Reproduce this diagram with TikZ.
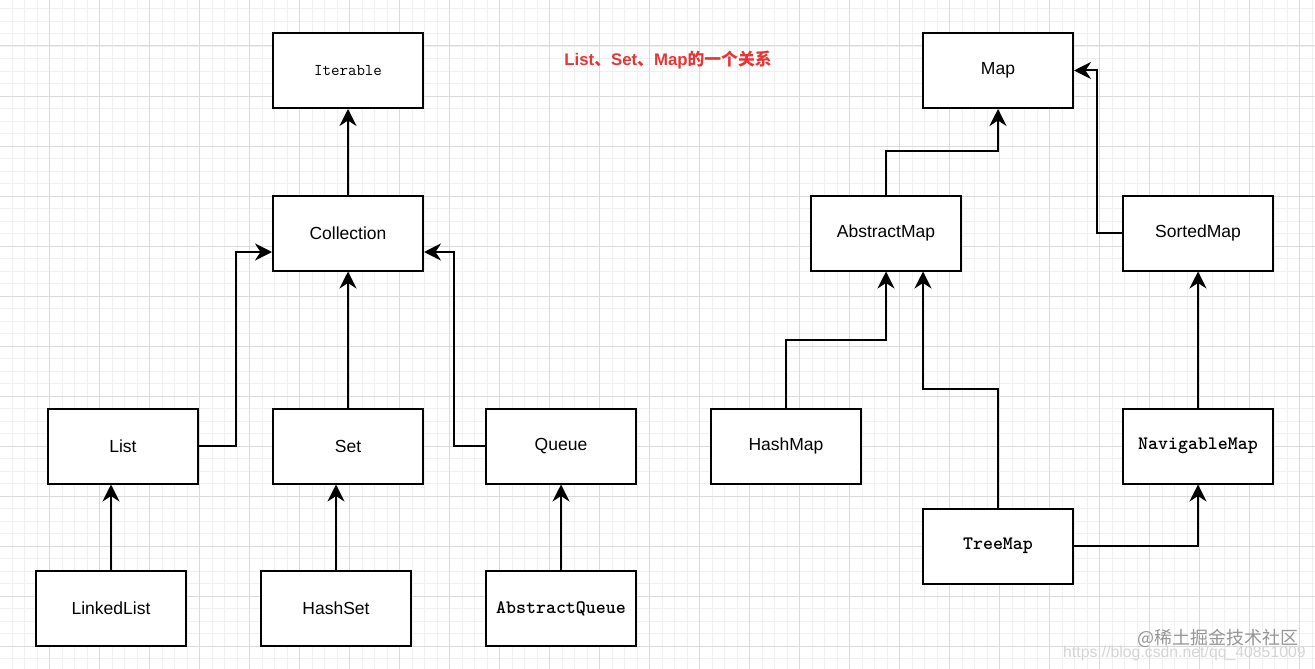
\documentclass[tikz,border=0pt]{standalone}
\usepackage{fontspec}
\setmainfont{Liberation Sans}
\newfontfamily\cjk{Noto Sans CJK SC}
\usetikzlibrary{arrows.meta}
\definecolor{titlered}{RGB}{232,52,52}
\definecolor{gridmajor}{RGB}{218,218,218}
\definecolor{gridminor}{RGB}{240,240,240}
\definecolor{wmgray}{RGB}{150,150,150}
\begin{document}
\begin{tikzpicture}[x=1pt,y=-1pt,
  box/.style={draw=black,line width=2pt,fill=white,minimum width=150pt,minimum height=75pt,inner sep=0pt,font=\fontsize{17.5}{20}\selectfont},
  monob/.style={box,font=\ttfamily\bfseries\fontsize{19}{22}\selectfont},
  monon/.style={box,font=\ttfamily\fontsize{16.5}{19}\selectfont},
  conn/.style={draw=black,line width=2pt,-{Stealth[length=17pt,width=17pt,inset=5.5pt]}}]
\useasboundingbox (0,0) rectangle (1315,669);
\fill[white] (0,0) rectangle (1315,669);
% minor grid
\foreach \i in {0,...,106} {
  \draw[gridminor,line width=0.8pt] ({-0.5+12.5*\i},0) -- ({-0.5+12.5*\i},669);
}
\foreach \j in {0,...,54} {
  \draw[gridminor,line width=0.8pt] (0,{-4+12.5*\j}) -- (1315,{-4+12.5*\j});
}
% major grid
\foreach \i in {0,...,27} {
  \draw[gridmajor,line width=1pt] ({-0.5+50*\i},0) -- ({-0.5+50*\i},669);
}
\foreach \j in {0,...,13} {
  \draw[gridmajor,line width=1pt] (0,{-4+50*\j}) -- (1315,{-4+50*\j});
}
% title
\node[text=titlered,font=\bfseries\fontsize{16.8}{19}\selectfont,inner sep=0pt] (title) at (668,60)
  {List{\cjk 、}Set{\cjk 、}Map{\cjk\bfseries 的一个关系}};
% nodes
\node[monon] (iter) at (348,70.5) {Iterable};
\node[box] (coll) at (348,233) {Collection};
\node[box] (list) at (123,446) {List};
\node[box] (set) at (348,446) {Set};
\node[box] (queue) at (561,446) {Queue};
\node[box] (llist) at (111,608.5) {LinkedList};
\node[box] (hset) at (336,608.5) {HashSet};
\node[monob] (aqueue) at (561,608.5) {AbstractQueue};
\node[box] (map) at (998,70.5) {Map};
\node[box] (amap) at (886,233) {AbstractMap};
\node[box] (smap) at (1198,233) {SortedMap};
\node[box] (hmap) at (786,446) {HashMap};
\node[monob] (nmap) at (1198,446) {NavigableMap};
\node[monob] (tmap) at (998,546) {TreeMap};
% connectors
\draw[conn] (coll.north) -- (iter.south);
\draw[conn] (set.north) -- (coll.south);
\draw[conn] (list.east) -- ++(37,0) |- ([yshift=-19pt]coll.west);
\draw[conn] (queue.west) -- ++(-31,0) |- ([yshift=-19pt]coll.east);
\draw[conn] (llist.north) -- (llist.north |- list.south);
\draw[conn] (hset.north) -- (hset.north |- set.south);
\draw[conn] (aqueue.north) -- (queue.south);
\draw[conn] (amap.north) -- ++(0,-44) -| (map.south);
\draw[conn] (smap.west) -- ++(-25,0) |- (map.east);
\draw[conn] (hmap.north) -- ++(0,-68) -| (amap.south);
\draw[conn] (tmap.north) -- ++(0,-119) -| ([xshift=37pt]amap.south);
\draw[conn] (tmap.east) -| (nmap.south);
\draw[conn] (nmap.north) -- (smap.south);
% watermark
\node[text=wmgray!40,font=\fontsize{15.8}{18}\selectfont,inner sep=0pt,anchor=west] (wm2) at (1063,653) {https://blog.csdn.net/qq\_40851009};
\node[text=wmgray,font=\cjk\fontsize{18}{21}\selectfont,inner sep=0pt,anchor=east] (wm1) at (1299,638) {@稀土掘金技术社区};
\end{tikzpicture}
\end{document}
